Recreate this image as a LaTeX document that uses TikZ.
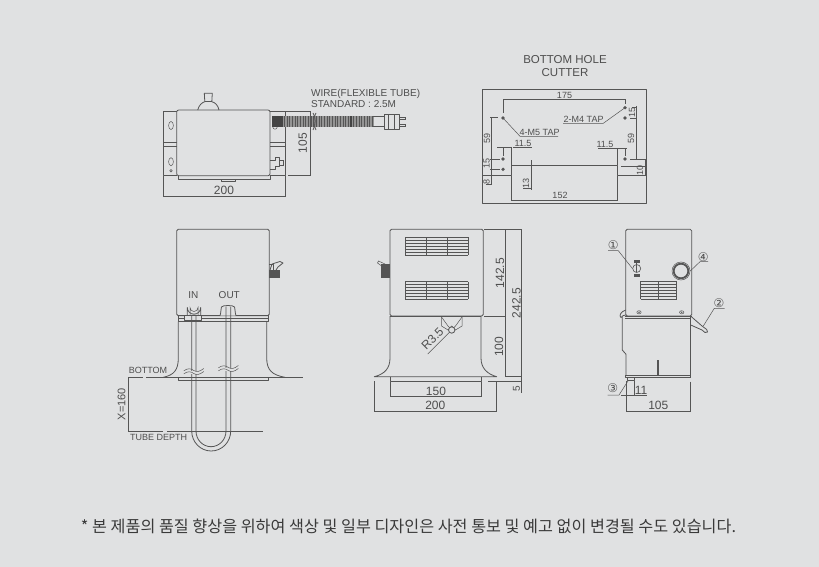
\documentclass[tikz,border=0pt]{standalone}
\usepackage{fontspec}
\setmainfont{Liberation Sans}
\newfontfamily\cjkfont{Noto Sans CJK KR}
\newfontfamily\symfont{DejaVu Sans}
\definecolor{bgc}{HTML}{E0E1E2}
\definecolor{ink}{HTML}{555555}
\definecolor{txt}{HTML}{4E4E4E}
\definecolor{capc}{HTML}{3A3A3A}
\tikzset{
  part/.style={draw=ink,line width=0.8pt,line join=round},
  thin part/.style={draw=ink,line width=0.5pt},
  heavy/.style={draw=ink,line width=1.1pt},
  dimline/.style={draw=ink,line width=0.5pt},
  lab/.style={text=txt,inner sep=0pt,font=\fontsize{12}{12}\selectfont},
  smalllab/.style={text=txt,inner sep=0pt,font=\fontsize{10}{11}\selectfont},
  tinylab/.style={text=txt,inner sep=0pt,font=\fontsize{9}{10}\selectfont},
  numlab/.style={text=txt,inner sep=0pt,font=\symfont\fontsize{12}{12}\selectfont}
}
\begin{document}
\begin{tikzpicture}[x=1pt,y=-1pt]
\useasboundingbox (0,0) rectangle (819,567);
\fill[bgc] (0,0) rectangle (819,567);

% ---------- top view ----------
\draw[part] (163.5,111.7) rectangle (285,175.7);
\fill[bgc] (177,110) rectangle (270,176);
\draw[part,rounded corners=2pt] (176.7,110) rectangle (270,175.7);
\draw[part] (178,175.7) -- (178,179.3) -- (270,179.3) -- (270,175.7);
\draw[part] (221,179.3) -- (221,181.2) -- (235.7,181.2) -- (235.7,179.3);
\draw[part] (197.7,110) .. controls (199,105) and (202,102.5) .. (204.8,101.7) -- (204.3,93.3) -- (212.3,93.3) -- (211.8,101.7) .. controls (215,102.5) and (218,105) .. (219,110);
\draw[thin part] (204.8,101.7) -- (211.8,101.7);
\foreach \yy in {142.7,146.7}{
  \draw[thin part] (163.5,\yy) -- (176.7,\yy);
  \draw[thin part] (270,\yy) -- (285,\yy);
}
\draw[thin part] (171,125.5) ellipse (2.4 and 4);
\draw[thin part] (171,161.7) ellipse (2.4 and 4);
\draw[thin part] (171,170.7) circle (1.2);
\draw[thin part] (275,127) circle (2.2);
\draw[part] (270,160) -- (275,160) -- (275,157) -- (279,157) -- (279,166) -- (275,166) -- (275,169) -- (270,169);
\draw[thin part] (279,160) -- (283,160) -- (283,165) -- (279,165);
% flexible tube
\fill[ink] (271.7,116) rectangle (373.3,126.7);
\foreach \xx in {272,273.6,...,373}{\draw[bgc!45!ink,line width=0.2pt] (\xx,116) -- (\xx,126.7);}
\fill[ink!80!black] (350,116) rectangle (352,126.7);
\fill[ink!80!black] (271.7,116) rectangle (283,126.7);
\draw[part] (373.3,116) -- (384,116) (373.3,126.7) -- (384,126.7);
\draw[part] (313,113) .. controls (316,117) and (316,125) .. (313,130);
\draw[part] (316,113) .. controls (313,117) and (313,125) .. (316,130);
\draw[part] (384,114.3) rectangle (399,129);
\draw[thin part] (388,114.3) -- (388,129) (394,114.3) -- (394,129);
\draw[thin part] (399,117) -- (405,117) -- (405,119.5) -- (399,119.5);
\draw[thin part] (399,124) -- (405,124) -- (405,126.5) -- (399,126.5);
% dims
\draw[dimline] (285,111.7) -- (311,111.7) (288,175.7) -- (311,175.7) (310.7,111.7) -- (310.7,175.7);
\draw[dimline] (163.5,176) -- (163.5,197) (285,176) -- (285,197) (163.5,196.7) -- (285,196.7);
\node[lab,rotate=90] (d105) at (302.7,143) {105};
\node[lab] (d200a) at (224,190) {200};
\node[smalllab,anchor=west,align=left] (wire) at (311,98) {WIRE(FLEXIBLE TUBE)\\STANDARD : 2.5M};

% ---------- bottom hole ----------
\node[lab,font=\fontsize{11.5}{13}\selectfont,align=center] (bh) at (565,66.5) {BOTTOM HOLE\\CUTTER};
\draw[part] (482.3,89.3) rectangle (646.7,203.3);
\draw[part] (482.3,175.7) -- (511,175.7) -- (511,165.7) -- (617.7,165.7) -- (617.7,175.7) -- (646.7,175.7);
\foreach \px/\py in {503/118,503/159,503/169.3,625/107.7,625/118,625/159}{
  \fill[ink] (\px,\py) circle (1.8);
}
% 175
\draw[dimline] (503,113) -- (503,99.7) -- (625,99.7) -- (625,104);
\node[tinylab] (d175) at (564.5,95) {175};
% leaders
\draw[dimline] (503,118) -- (520,136.3) -- (558,136.3);
\node[tinylab,anchor=south west] (m5) at (519.5,135.5) {4-M5 TAP};
\draw[dimline] (625,107.7) -- (603,123.5) -- (563,123.5);
\node[tinylab,anchor=south west] (m4) at (563.5,122.5) {2-M4 TAP};
% left dims
\draw[dimline] (490,117.6) -- (498,117.6) (491.7,117.6) -- (491.7,176);
\node[tinylab,rotate=90] (d59a) at (487,138.5) {59};
\draw[dimline] (490,159) -- (500,159) (490,169.3) -- (500,169.3);
\node[tinylab,rotate=90] (d15a) at (486.5,163.5) {15};
\draw[dimline] (486,184.5) -- (491.7,184.5) (491.7,176) -- (491.7,184.5);
\node[tinylab,rotate=90] (d8) at (486.5,181.5) {8};
% 11.5 left
\draw[dimline] (497,147.5) -- (512,147.5) (503,147.5) -- (503,156) (511,147.5) -- (511,165);
\draw[dimline] (513,147) -- (532,147);
\node[tinylab] (d115a) at (523,143) {11.5};
% 11.5 right
\draw[dimline] (598,148.7) -- (627,148.7) (617.7,148.7) -- (617.7,165) (625,148.7) -- (625,156);
\node[tinylab] (d115b) at (605,144) {11.5};
% right dims
\draw[dimline] (630,159) -- (646,159);
\draw[dimline] (636,106) -- (636,159);
\draw[dimline] (632,107.7) -- (637,107.7) (630,118) -- (637,118);
\node[tinylab,rotate=90] (d15b) at (632,112.5) {15};
\node[tinylab,rotate=90] (d59b) at (631,138.5) {59};
\draw[dimline] (621,166.5) -- (646,166.5) (645,159) -- (645,176);
\node[tinylab,rotate=90] (d10) at (640,170.5) {10};
% 13 & 152
\draw[dimline] (531,160) -- (531,190);
\draw[dimline] (523,188.5) -- (531,188.5);
\node[tinylab,rotate=90] (d13) at (526,183) {13};
\draw[dimline] (511,176) -- (511,201) (617.7,176) -- (617.7,201) (511,200.5) -- (617.7,200.5);
\node[tinylab] (d152) at (560,195) {152};

% ---------- front view ----------
\draw[part,rounded corners=1.5pt] (176.7,229.3) rectangle (269.3,315.7);
\draw[part] (269.3,264) -- (273,264) -- (273,277.5) -- (269.3,277.5);
\fill[ink] (269.3,270) rectangle (279.5,277.5);
\draw[part] (270,270) -- (272,264) -- (280,261.5) -- (283,263) -- (278,267) -- (276,270);
\draw[part] (178.3,315.7) rectangle (268.3,321.7);
\draw[thin part] (178.3,318) -- (268.3,318);
\draw[part] (178.3,321.7) -- (178.3,358) .. controls (178.3,370) and (174,375) .. (163.3,377.3);
\draw[part] (266.7,321.7) -- (266.7,358) .. controls (266.7,370) and (272,375) .. (285,377.3);
\draw[part] (128,377.7) -- (143,377.7) (146,377.7) -- (302.7,377.7);
\draw[part] (178.3,377.7) -- (178.3,380.7) -- (268,380.7) -- (268,377.7);
\draw[dimline] (128.3,377.7) -- (128.3,431) (128,431) -- (163,431) (167,431) -- (262.7,431);
\node[smalllab,font=\fontsize{9}{10}\selectfont,anchor=west] (bot) at (128.7,370) {BOTTOM};
\node[smalllab,font=\fontsize{9}{10}\selectfont,anchor=west] (tube) at (130,437.5) {TUBE DEPTH};
\node[lab,font=\fontsize{11}{11}\selectfont,rotate=90] (x160) at (121.7,404) {X=160};
% fittings
\draw[part,fill=bgc] (187.3,315.7) -- (187.3,307.5) arc[start angle=180,end angle=0,radius=6.7] -- (200.7,315.7);
\draw[thin part] (190,315.7) -- (190,307.5) arc[start angle=180,end angle=0,radius=4] -- (198,315.7);
\draw[part,fill=bgc] (184.5,315.7) rectangle (201.7,320.8);
\draw[part,fill=bgc] (220,315.7) .. controls (221,313) and (221,308) .. (221.5,307) .. controls (222,305) and (234,305) .. (234.5,307) .. controls (235,308) and (235,313) .. (236,315.7);
\node[smalllab] (inl) at (193.3,295) {IN};
\node[smalllab] (outl) at (229.3,295) {OUT};
% U tube
\draw[part] (191.7,316) -- (191.7,431) arc[start angle=180,end angle=0,x radius=19.5,y radius=20] -- (230.7,306.5);
\draw[part] (196,316) -- (196,431) arc[start angle=180,end angle=0,x radius=15,y radius=15.7] -- (226,306.5);
\foreach \bx/\by in {193.8/371.5,228.4/368.5}{
  \fill[bgc] (\bx-9,\by-0.9) rectangle (\bx+9,\by+2);
  \draw[thin part] (\bx-10,\by-0.7) .. controls (\bx-6,\by-3.5) and (\bx-3,\by-3.2) .. (\bx,\by-1) .. controls (\bx+3,\by+1) and (\bx+6,\by) .. (\bx+10,\by-3);
  \draw[thin part] (\bx-10,\by+2.3) .. controls (\bx-6,\by-0.5) and (\bx-3,\by-0.2) .. (\bx,\by+2) .. controls (\bx+3,\by+4) and (\bx+6,\by+3) .. (\bx+10,\by);
}

% ---------- side view ----------
\draw[part,rounded corners=1.5pt] (390,229.3) rectangle (483.3,316);
\foreach \vy in {237.3,281.7}{
  \foreach \k in {0,3,...,18}{\draw[ink,line width=0.8pt] (405,\vy+\k*0.98) -- (468.3,\vy+\k*0.98);}
  \foreach \vx in {405,426,447.3,468.3}{\draw[ink,line width=0.8pt] (\vx,\vy) -- (\vx,\vy+17.6);}
}
\fill[ink] (381,264) rectangle (390,278.3);
\draw[thin part] (385,264) -- (378.5,261) -- (377.5,263) -- (381,265.5);
\draw[part] (390,316) -- (390,358) .. controls (390,368) and (385,374) .. (374.3,376.7) -- (496.7,376.7) .. controls (487,374) and (481,368) .. (481,358) -- (481,316);
\draw[heavy] (390,316.3) -- (481,316.3);
\draw[part] (390,376.7) -- (390,381) -- (481,381) -- (481,376.7);
\draw[thin part] (441.5,317) -- (441.5,326) -- (448,330) -- (451.7,326) -- (455.5,330) -- (462,326) -- (462,317);
\draw[thin part] (441.5,317) -- (448,326) -- (451.7,330) -- (455.5,326) -- (462,317);
\draw[part,fill=bgc] (451.7,330) circle (3.2);
\coordinate (rfree) at (427.7,354);
\draw[dimline] (449.4,332.3) -- (rfree);
\node[lab,rotate=45] (r35) at (432.5,338.5) {R3.5};
% dims
\draw[dimline] (484,229.3) -- (522,229.3) (484,316.3) -- (506,316.3);
\draw[dimline] (505.7,229.3) -- (505.7,377) (521.7,229.3) -- (521.7,392.5);
\draw[dimline] (505,376.7) -- (522,376.7) (488,381) -- (522,381);
\node[lab,rotate=90] (d1425) at (500,273) {142.5};
\node[lab,rotate=90] (d2425) at (516.5,303) {242.5};
\node[lab,rotate=90] (d100) at (499,346.7) {100};
\node[tinylab,font=\fontsize{10}{10}\selectfont,rotate=90] (d5) at (516.5,388.5) {5};
\draw[dimline] (390,382) -- (390,397) (481,382) -- (481,397) (390,396.7) -- (481,396.7);
\draw[dimline] (374.3,381) -- (374.3,412) (496.7,381) -- (496.7,412) (374.3,411.7) -- (496.7,411.7);
\node[lab] (d150) at (436,391.5) {150};
\node[lab] (d200b) at (435.3,405.5) {200};

% ---------- right view ----------
\draw[part,rounded corners=1.5pt] (625.7,229.3) rectangle (691.7,316);
\foreach \k in {0,3,...,18}{\draw[ink,line width=0.8pt] (640.7,281+\k*1) -- (676.7,281+\k*1);}
\foreach \vx in {640.7,658.3,676.7}{\draw[ink,line width=0.8pt] (\vx,281) -- (\vx,299);}
\node[circle,draw=ink,line width=1.8pt,minimum size=14.6pt,inner sep=0pt] (ring) at (681,271) {};
\node[circle,draw=ink,line width=0.5pt,minimum size=18pt,inner sep=0pt] (ringo) at (681,271) {};
\node[circle,draw=ink,line width=0.6pt,minimum size=8pt,inner sep=0pt,fill=bgc] (swc) at (636.7,268.5) {};
\fill[ink] (633.5,260) rectangle (640,263);
\fill[ink] (633.5,274) rectangle (640,276.5);
\draw[ink,line width=1pt] (636.7,263) -- (636.7,272);
\foreach \sx in {639,681.7}{
  \draw[thin part] (\sx,312.3) ellipse (2.2 and 1.6);
  \fill[ink] (\sx,312.3) circle (0.8);
}
\draw[part] (625.7,310) .. controls (620,312) and (619,316) .. (621,317.5) .. controls (622,316) and (624,315) .. (625.7,315);
\draw[heavy] (625,316.5) -- (691.7,316.5);
\draw[thin part] (625,318.5) -- (691,318.5);
\draw[part] (622.3,317) -- (622.3,350) -- (626,354.3) -- (626,375);
\draw[part] (690.7,317) -- (690.7,378);
\draw[part] (626,375) -- (690.7,375);
\draw[part] (625.7,375) -- (625.7,377.7) -- (690.7,377.7);
\draw[part] (627.3,377.7) -- (627.3,380.7) -- (634,380.7) -- (634,377.7);
\draw[part] (657,360) -- (657,375) (658.5,360) -- (658.5,375);
% part 2 handle
\draw[part] (691.7,317) -- (702,326) -- (706.7,329.5) -- (707.5,332) -- (705,332.5) -- (702,330) -- (690.7,325);
\node[numlab] (n1) at (613.3,245) {①};
\node[numlab] (n2) at (719,303.5) {②};
\node[numlab] (n3) at (612.7,387.7) {③};
\node[numlab] (n4) at (703.3,256.7) {④};
\coordinate (n1u) at (608,250.7);
\coordinate (n1e) at (618.3,250.7);
\draw[dimline] (n1u) -- (n1e) -- (swc.west);
\coordinate (n2u) at (724.5,308.3);
\coordinate (n2e) at (714.3,308.3);
\coordinate (part2) at (703.3,326);
\draw[dimline] (n2u) -- (n2e) -- (part2);
\coordinate (n3u) at (607.5,395);
\coordinate (n3e) at (619,395);
\coordinate (part3) at (628.3,380.5);
\draw[dimline] (n3u) -- (n3e) -- (part3);
\coordinate (n4u) at (708,261.7);
\coordinate (n4e) at (700,261.7);
\draw[dimline] (n4u) -- (n4e) -- (ringo.east);
% dims
\draw[dimline] (621,395.5) -- (647,395.5) (626.2,381) -- (626.2,395.5) (634,381) -- (634,395.5);
\node[lab] (d11) at (641,390.5) {11};
\draw[dimline] (626.3,382) -- (626.3,412) (690.7,381.5) -- (690.7,412) (626.3,411.7) -- (690.7,411.7);
\node[lab] (d105b) at (658.3,405) {105};

% ---------- caption ----------
\node[inner sep=0pt,text=capc] (cap) at (408.5,526) {\cjkfont\fontsize{16.2}{17}\selectfont * 본 제품의 품질 향상을 위하여 색상 및 일부 디자인은 사전 통보 및 예고 없이 변경될 수도 있습니다.};
\end{tikzpicture}
\end{document}
